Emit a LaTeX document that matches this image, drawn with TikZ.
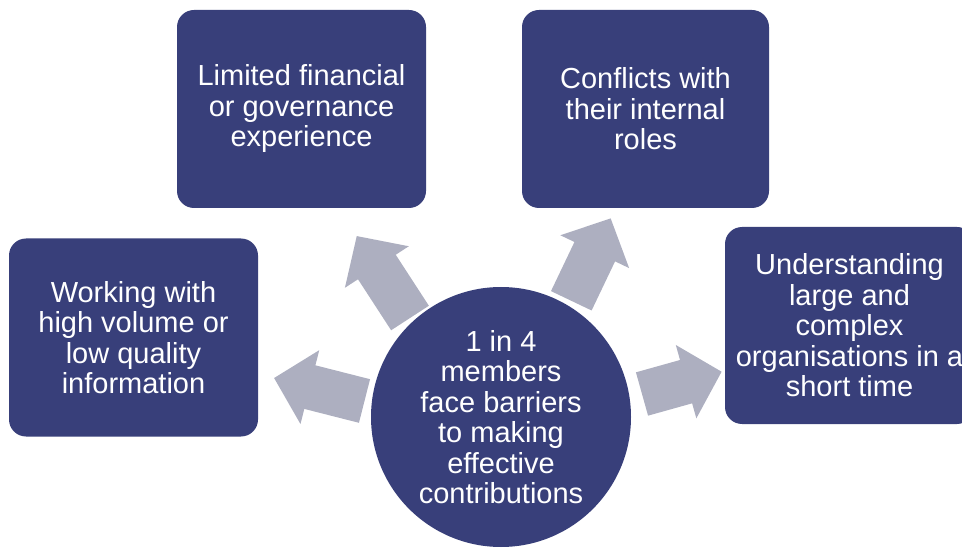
\documentclass[tikz,border=0pt]{standalone}
\usepackage{fontspec}
\setmainfont{Liberation Sans}
\usepackage{xcolor}
\usetikzlibrary{calc,
	positioning,
	arrows.meta}
\definecolor{navy}{RGB}{56,63,122}
\definecolor{steel}{RGB}{173,175,192}
\tikzstyle{txt}=[text=white, align=center, font=\fontsize{29}{30.5}\selectfont]
\tikzstyle{bx}=[txt, fill=navy, rounded corners=17pt, minimum width=249pt,
		minimum height=198pt, inner sep=0]
\tikzstyle{hb}=[txt, circle, fill=navy, minimum size=260pt, inner sep=0]
\tikzstyle{ar}=[draw=steel, line width=45pt, -{Triangle[length=37pt,width=74pt]}]

\begin{document}
\begin{tikzpicture}[x=1pt, y=1pt]
                \useasboundingbox (0,0) rectangle (962,547);
                % arrows first, so they sit under the hub
                \coordinate (c) at (501,130);
                \node[bx] (work) at (133.5,209.5) {Working with\\high volume or\\low quality\\information};
                \node[bx] (limit) at (301.5,438) {Limited financial\\or governance\\experience};
                \node[bx, minimum width=247pt] (conf) at (645.5,438) {Conflicts with\\their internal\\roles};
                \node[bx, minimum height=197pt] (large) at (849.5,221.5) {Understanding\\large and\\complex\\organisations in a\\short time};
                \draw[ar] ($(c)+(-136.5,16)$) -- ($(c)+(-227,39)$);
                \draw[ar] ($(c)+(-91,99)$) -- ($(c)+(-144.3,181)$);
                \draw[ar] ($(c)+(70.3,116.2)$) -- ($(c)+(109.7,198.7)$);
                \draw[ar] ($(c)+(141,23)$) -- ($(c)+(220.7,45.3)$);
                \node[hb] (hub) at (c) {1 in 4\\members\\face barriers\\to making\\effective\\contributions};
            \end{tikzpicture}
\end{document}
